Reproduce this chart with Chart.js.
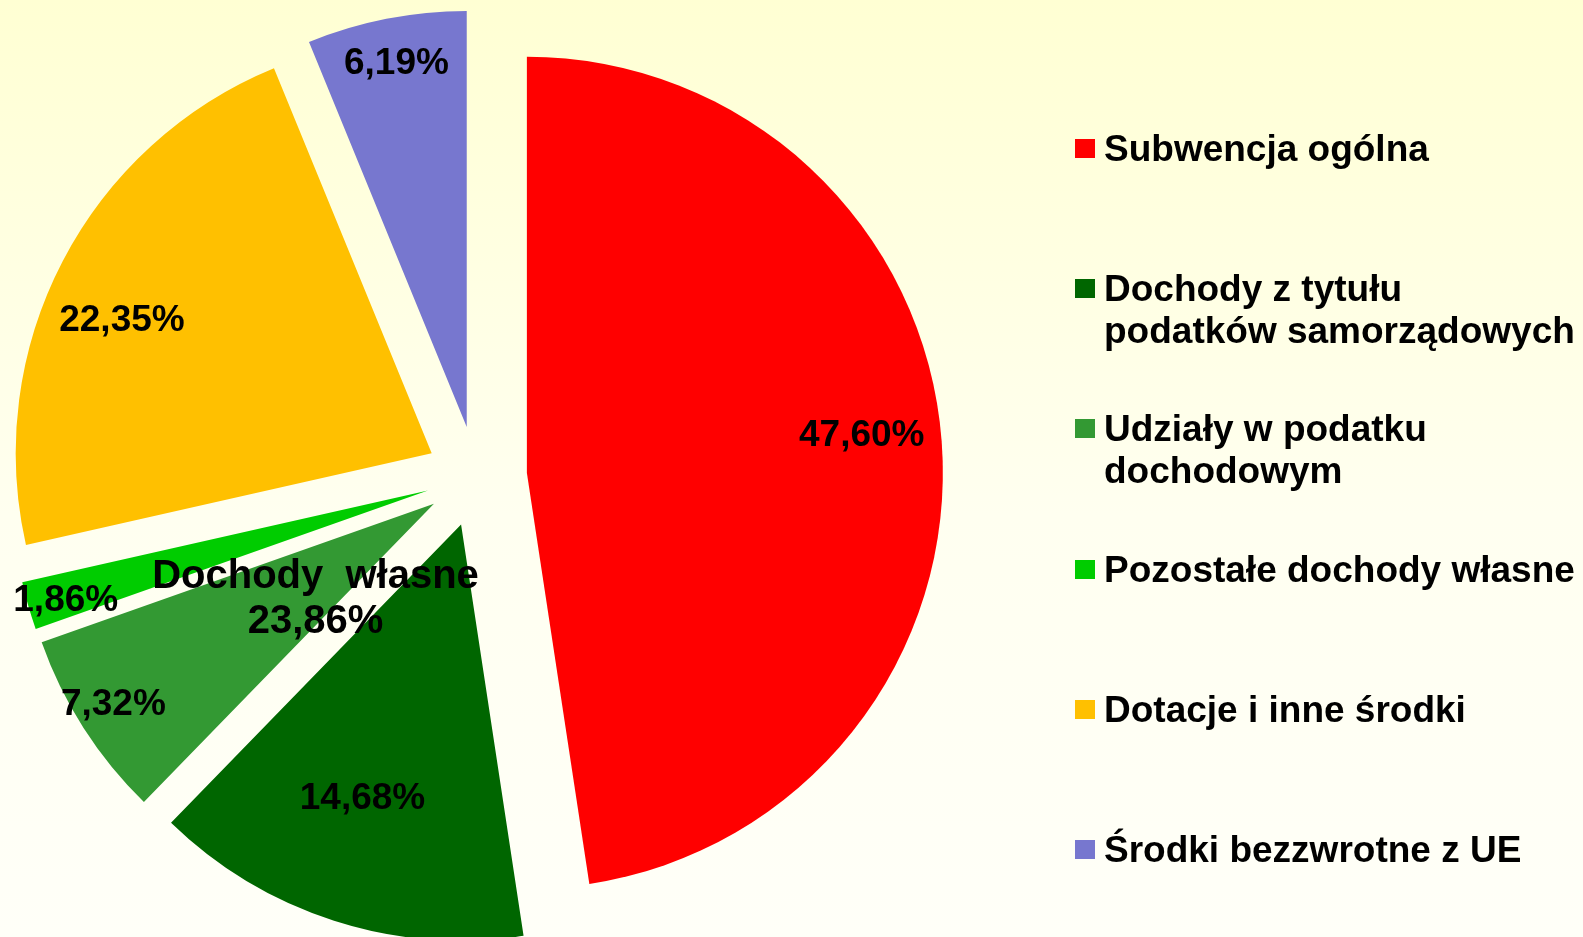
<!DOCTYPE html>
<html lang="pl">
<head>
<meta charset="utf-8">
<script src="https://cdn.jsdelivr.net/npm/chart.js@4.4.1/dist/chart.umd.min.js"></script>
<style>
  html, body { margin: 0; padding: 0; }
  body {
    width: 1583px; height: 937px; overflow: hidden; position: relative;
    background: linear-gradient(to bottom, #ffffd3 0%, #fffff0 55%, #fffff8 100%);
    font-family: "Liberation Sans", Arial, sans-serif;
  }
  #wrap { position: absolute; left: 0; top: 0; width: 1583px; height: 937px; }
  #legend { position: absolute; left: 0; top: 0; }
  .item { position: absolute; left: 1075px; font-weight: bold; font-size: 37px; line-height: 42px; color: #000; white-space: nowrap; }
  .item .box { position: absolute; left: 0; top: 11px; width: 20px; height: 19px; }
  .item .txt { position: absolute; left: 29px; top: 0; }
</style>
</head>
<body>
<div id="wrap"><canvas id="pieChart"></canvas></div>
<div id="legend"></div>
<script>
const categories = [
  "Subwencja ogólna",
  "Dochody z tytułu\npodatków samorządowych",
  "Udziały w podatku\ndochodowym",
  "Pozostałe dochody własne",
  "Dotacje i inne środki",
  "Środki bezzwrotne z UE"
];
const shares = [47.60, 14.68, 7.32, 1.86, 22.35, 6.19];
const colors = ["#ff0000", "#006600", "#339933", "#00cc00", "#ffc000", "#7777cf"];

// group label over the three "own income" slices
const groupTitle = "Dochody  własne";
const groupIdx = [1, 2, 3];

// label placement: fraction of radius from slice tip, angle nudge in degrees
const labelRadius = [0.81, 0.70, 0.91, 0.91, 0.81, 0.89];
const labelNudge = [-2, 2, 0.5, -0.8, -4.3, 0.2];

const fmt = v => v.toFixed(2).replace(".", ",") + "%";

const explodePlugin = {
  id: "explode",
  beforeDatasetDraw(chart, args, opts) {
    const ctx = chart.ctx;
    args.meta.data.forEach(arc => {
      const mid = (arc.startAngle + arc.endAngle) / 2;
      ctx.save();
      ctx.translate(Math.cos(mid) * opts.distance, Math.sin(mid) * opts.distance);
      arc.draw(ctx, chart.chartArea);
      ctx.restore();
    });
    return false;
  },
  afterDatasetsDraw(chart, args, opts) {
    const ctx = chart.ctx;
    const arcs = chart.getDatasetMeta(0).data;
    ctx.save();
    ctx.fillStyle = "#000";
    ctx.textAlign = "center";
    ctx.textBaseline = "middle";
    ctx.font = "bold 37px 'Liberation Sans', Arial, sans-serif";
    arcs.forEach((arc, i) => {
      const mid = (arc.startAngle + arc.endAngle) / 2;
      const cx = arc.x + Math.cos(mid) * opts.distance;
      const cy = arc.y + Math.sin(mid) * opts.distance;
      const a = mid + labelNudge[i] * Math.PI / 180;
      const r = arc.outerRadius * labelRadius[i];
      ctx.fillText(fmt(shares[i]), cx + Math.cos(a) * r, cy + Math.sin(a) * r);
    });
    // group annotation
    const c = arcs[0];
    const total = groupIdx.reduce((s, k) => s + shares[k], 0);
    ctx.font = "bold 40px 'Liberation Sans', Arial, sans-serif";
    ctx.fillText(groupTitle, c.x - 161, c.y + 100);
    ctx.fillText(fmt(total), c.x - 161, c.y + 145);
    ctx.restore();
  }
};

new Chart(document.getElementById("pieChart"), {
  type: "pie",
  data: {
    labels: categories,
    datasets: [{
      data: shares,
      backgroundColor: colors,
      borderWidth: 0
    }]
  },
  options: {
    responsive: true,
    maintainAspectRatio: false,
    animation: false,
    events: [],
    radius: 416,
    layout: { padding: { left: 0, right: 630, top: 16, bottom: 0 } },
    plugins: {
      legend: { display: false },
      tooltip: { enabled: false },
      explode: { distance: 50.5 }
    }
  },
  plugins: [explodePlugin]
});

// legend as html
const tops = [128, 268, 408, 549, 689, 829];
const legend = document.getElementById("legend");
categories.forEach((name, i) => {
  const div = document.createElement("div");
  div.className = "item";
  div.style.top = tops[i] + "px";
  const box = document.createElement("span");
  box.className = "box";
  box.style.background = colors[i];
  const txt = document.createElement("span");
  txt.className = "txt";
  txt.innerHTML = name.split("\n").join("<br>");
  div.appendChild(box);
  div.appendChild(txt);
  legend.appendChild(div);
});
</script>
</body>
</html>
